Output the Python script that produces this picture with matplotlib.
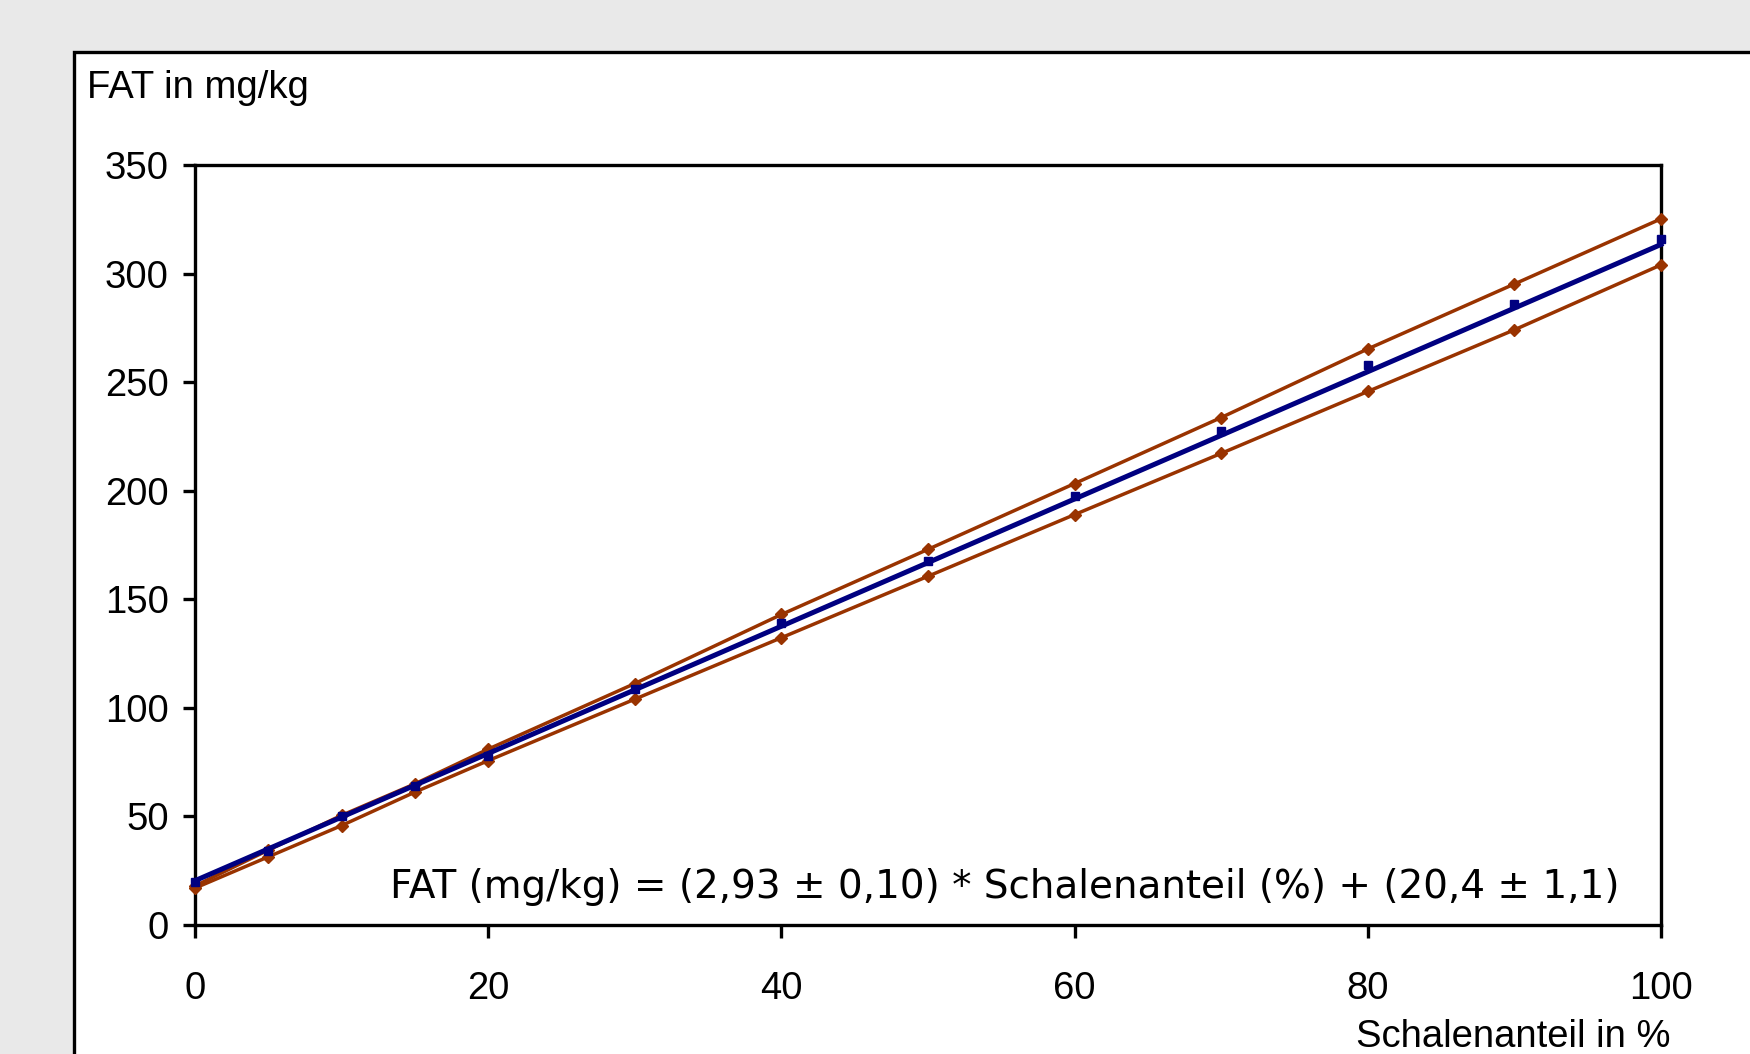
import matplotlib
matplotlib.use("Agg")
import matplotlib.pyplot as plt
from matplotlib.patches import Rectangle
import numpy as np

# shell fraction in %
schalenanteil = [0, 5, 10, 15, 20, 30, 40, 50, 60, 70, 80, 90, 100]
# measured FAT values (blue points)
fat_measured = [20, 34, 50, 64, 78, 108.6, 139, 167.5, 197.6, 227.5, 258, 286, 316]
# upper / lower confidence band
fat_upper = [18, 34.5, 50.5, 65, 81, 111.2, 143, 173, 203.3, 233.7, 265.3, 295.2, 325.2]
fat_lower = [17, 31.4, 45.8, 61.2, 75.7, 104, 132.3, 160.6, 189, 217.2, 245.7, 274.1, 304]
# regression
slope, intercept = 2.93, 20.4

x_ticks = [0, 20, 40, 60, 80, 100]
y_ticks = [0, 50, 100, 150, 200, 250, 300, 350]

W, H = 1750, 1054
fig = plt.figure(figsize=(W / 100, H / 100), dpi=100)
fig.patch.set_facecolor("#e9e9e9")

# white panel with black frame, running off the right and bottom edge
fig.patches.append(Rectangle((74 / W, -0.2), 1.2, 1.2 - 52 / H,
                             transform=fig.transFigure, facecolor="white",
                             edgecolor="black", linewidth=2.4, zorder=-1))

ax = fig.add_axes([195 / W, 1 - 925 / H, (1661 - 195) / W, (925 - 165) / H])
ax.set_facecolor("white")

brown = "#993300"
navy = "#000080"
ax.plot(schalenanteil, fat_upper, color=brown, lw=2.5, marker="D", ms=6.5,
        clip_on=False, zorder=3)
ax.plot(schalenanteil, fat_lower, color=brown, lw=2.5, marker="D", ms=6.5,
        clip_on=False, zorder=3)
xs = np.array([schalenanteil[0], schalenanteil[-1]])
ax.plot(xs, slope * xs + intercept, color=navy, lw=3.6, clip_on=False, zorder=4)
ax.plot(schalenanteil, fat_measured, ls="none", color=navy, marker="s", ms=5.5,
        clip_on=False, zorder=5)

ax.set_xlim(0, 100)
ax.set_ylim(0, 350)
ax.set_xticks(x_ticks)
ax.set_yticks(y_ticks)
tick_font = dict(family="Liberation Sans", size=27.5)
ax.set_xticklabels([str(v) for v in x_ticks], **tick_font)
ax.set_yticklabels([str(v) for v in y_ticks], **tick_font)
ax.tick_params(axis="both", direction="out", length=9, width=2.4, color="black")
ax.tick_params(axis="x", pad=24)
ax.tick_params(axis="y", pad=10)
for s in ax.spines.values():
    s.set_linewidth(2.4)

fig.text(87 / W, 1 - 98 / H, "FAT in mg/kg", family="Liberation Sans", size=27.5,
         ha="left", va="baseline")
fig.text(1670 / W, 1 - 1047 / H, "Schalenanteil in %", family="Liberation Sans",
         size=27.5, ha="right", va="baseline")

ax.text(1620 / W, 1 - 887 / H,
        "FAT (mg/kg) = (2,93 \u00b1 0,10) * Schalenanteil (%) + (20,4 \u00b1 1,1)",
        transform=fig.transFigure, family="DejaVu Sans", size=28,
        ha="right", va="center")

fig.savefig("out.png", dpi=100, facecolor=fig.get_facecolor())
